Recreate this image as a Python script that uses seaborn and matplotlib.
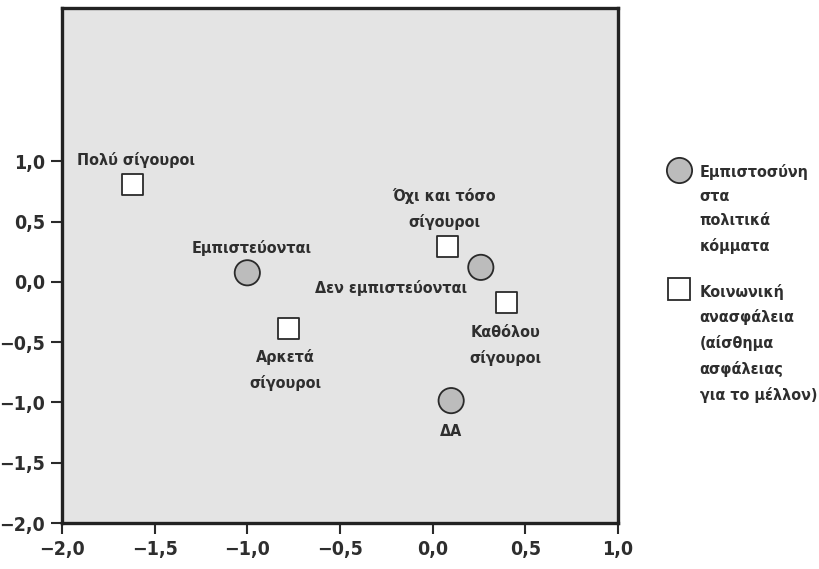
import numpy as np
import pandas as pd
import matplotlib
matplotlib.use("Agg")
import matplotlib.pyplot as plt
import seaborn as sns

# values
labels = ["Πολύ σίγουροι", "Εμπιστεύονται", "Αρκετά\nσίγουροι", "Όχι και τόσο\nσίγουροι",
          "Δεν εμπιστεύονται", "Καθόλου\nσίγουροι", "ΔΑ"]
x_vals = [-1.62, -1.00, -0.78, 0.08, 0.26, 0.40, 0.10]
y_vals = [0.81, 0.075, -0.385, 0.29, 0.12, -0.17, -0.985]
groups = ["ins", "trust", "ins", "ins", "trust", "ins", "trust"]
legend_labels = {"trust": "Εμπιστοσύνη\nστα\nπολιτικά\nκόμματα",
                 "ins": "Κοινωνική\nανασφάλεια\n(αίσθημα\nασφάλειας\nγια το μέλλον)"}
xticks = [-2.0, -1.5, -1.0, -0.5, 0.0, 0.5, 1.0]
yticks = [-2.0, -1.5, -1.0, -0.5, 0.0, 0.5, 1.0]

# label offsets in pixels (dx, dy, ha)
offsets = [(4, 24, "center"), (4, 25, "center"), (-3, -42, "center"), (-3, 38, "center"),
           (-14, -21, "right"), (-1, -43, "center"), (0, -31, "center")]

df = pd.DataFrame({"x": x_vals, "y": y_vals, "g": groups, "label": labels})

sns.set_style("white")
plt.rcParams["font.family"] = ["DejaVu Sans"]
plt.rcParams["font.stretch"] = "condensed"
plt.rcParams["font.weight"] = "bold"
txt = "#2e2e2e"

fig = plt.figure(figsize=(8.2, 5.69), dpi=100)
ax = fig.add_axes([0.0756, 0.0808, 0.678, 0.905])
ax.set_facecolor("#e4e4e4")

sns.scatterplot(data=df, x="x", y="y", hue="g", style="g", size="g",
                hue_order=["trust", "ins"],
                palette={"trust": "#bcbcbc", "ins": "#ffffff"},
                markers={"trust": "o", "ins": "s"},
                sizes={"trust": 330, "ins": 230},
                edgecolor="#2a2a2a", linewidth=1.3, ax=ax, zorder=3)

for (lx, ly, lab), (dx, dy, ha) in zip(zip(x_vals, y_vals, labels), offsets):
    ax.annotate(lab, (lx, ly), xytext=(dx, dy), textcoords="offset pixels",
                ha=ha, va="center", fontsize=11.5, fontweight="bold", color=txt,
                linespacing=1.75)

ax.set_xlim(-2, 1)
ax.set_ylim(-2, 2.27)
ax.set_xticks(xticks)
ax.set_yticks(yticks)
fmt = lambda v: f"{v:.1f}".replace(".", ",").replace("-", "\u2212")
ax.set_xticklabels([fmt(v) for v in xticks])
ax.set_yticklabels([fmt(v) for v in yticks])
ax.tick_params(axis="both", which="both", direction="out", length=8, width=1.5,
               color="#2a2a2a", labelsize=14, labelcolor=txt, pad=4,
               bottom=True, left=True)
for lab in ax.get_xticklabels() + ax.get_yticklabels():
    lab.set_fontweight("bold")
for sp in ax.spines.values():
    sp.set_linewidth(2.4)
    sp.set_color("#222222")
ax.set_xlabel("")
ax.set_ylabel("")

handles, hl = ax.get_legend_handles_labels()
keep = [(h, legend_labels[l]) for h, l in zip(handles, hl) if l in legend_labels]
leg = ax.legend([k[0] for k in keep], [k[1] for k in keep], loc="upper left",
                bbox_to_anchor=(1.081, 0.709), frameon=False, fontsize=11.5,
                handletextpad=0.7, labelspacing=1.85, borderaxespad=0,
                handlelength=1.2, markerscale=1.0)
for t in leg.get_texts():
    t.set_linespacing(1.75)
    t.set_color(txt)
    t.set_fontweight("bold")
for col in leg._legend_handle_box.get_children():
    for item in col.get_children():
        item.align = "top"

fig.savefig("out.png", dpi=100)
